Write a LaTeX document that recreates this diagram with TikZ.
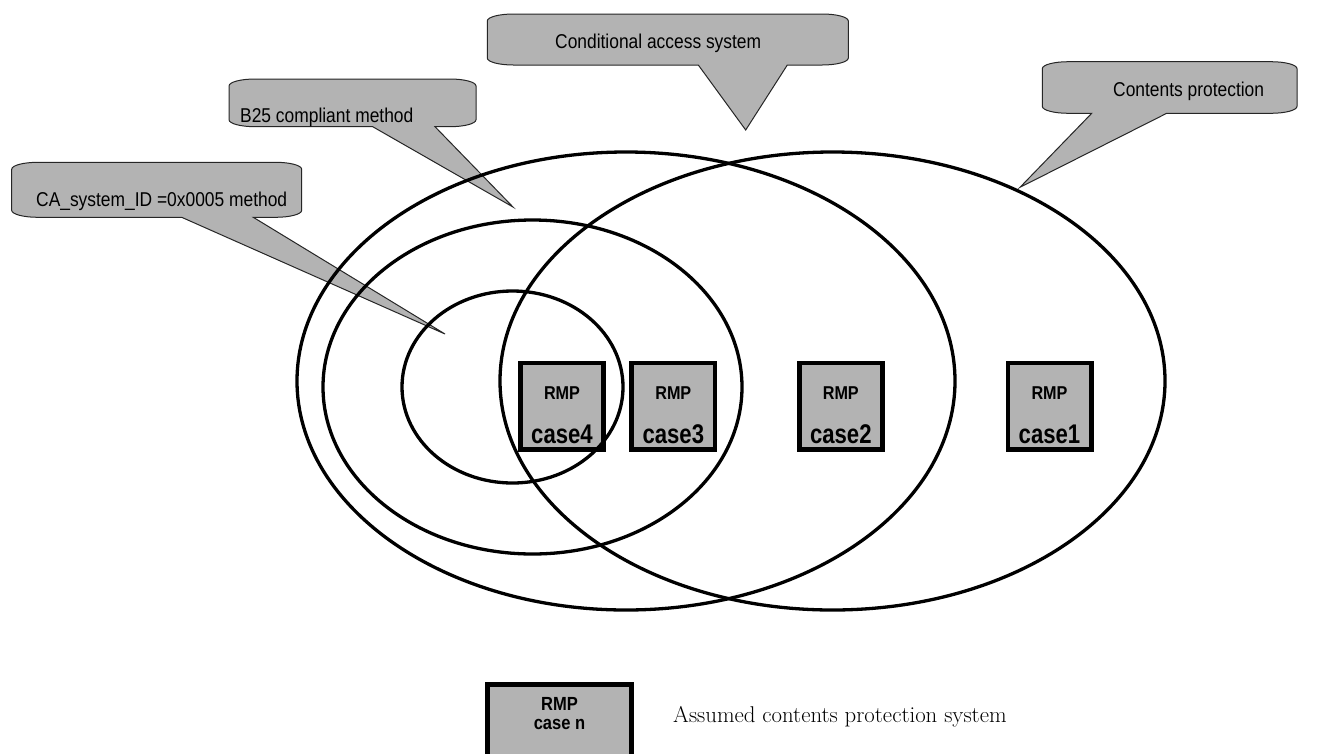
\documentclass[tikz,border=0pt]{standalone}
\usepackage{fontspec}
\newfontfamily\calloutfont[FakeStretch=0.87]{Liberation Sans}
\newfontfamily\boxfont[FakeStretch=0.87]{Liberation Sans}
\newfontfamily\casefont[FakeStretch=0.82]{Liberation Sans}
\definecolor{panelgray}{RGB}{179,179,179}

% speech-bubble callout: left, top, right, bottom, tail base x1, tail base x2, tip x, tip y
\newcommand\callout[8]{%
  \filldraw[callout]
    (#1,#2+7) .. controls (#1,#2+3) and (#1+12,#2) .. (#1+26,#2)
    -- (#3-26,#2) .. controls (#3-12,#2) and (#3,#2+3) .. (#3,#2+7)
    -- (#3,#4-7) .. controls (#3,#4-3) and (#3-12,#4) .. (#3-26,#4)
    -- (#6,#4) -- (#7,#8) -- (#5,#4)
    -- (#1+26,#4) .. controls (#1+12,#4) and (#1,#4-3) .. (#1,#4-7)
    -- cycle;}

% RMP case box: name, centre x, case label
\newcommand\rmpcase[3]{%
  \node[rmpbox] (#1) at (#2,406.35) {};
  \node[rmptop] (#1-rmp) at ([yshift=-38.7pt]#1.north) {RMP};
  \node[rmpcase] (#1-case) at ([yshift=9pt]#1.south) {#3};}

\begin{document}
\begin{tikzpicture}[x=1pt,y=-1pt,
  callout/.style={fill=panelgray, draw=black!85, line width=1pt, line join=miter},
  callouttext/.style={font=\calloutfont\fontsize{20}{24}\selectfont, inner sep=0pt, anchor=base west},
  setline/.style={line width=3.3pt},
  rmpbox/.style={draw, fill=panelgray, line width=4.7pt, minimum width=83.3pt, minimum height=86.6pt, inner sep=0pt},
  rmptop/.style={font=\boxfont\bfseries\fontsize{18.6}{20}\selectfont, inner sep=0pt, anchor=base},
  rmpcase/.style={font=\casefont\bfseries\fontsize{27}{30}\selectfont, inner sep=0pt, anchor=base},
  legendlabel/.style={font=\boxfont\bfseries\fontsize{19}{22}\selectfont, inner sep=0pt, anchor=base},
]
\useasboundingbox (0,0) rectangle (1335,753);
\clip (0,0) rectangle (1335,753);
\fill[white] (0,0) rectangle (1335,753);

% callouts
\callout{487.3}{14}{848.3}{65}{698.3}{787.3}{745.7}{130}
\callout{1042.3}{61.7}{1297}{113.3}{1091.7}{1166.7}{1020}{187.3}
\callout{229}{79}{476}{126.7}{372.7}{435}{513}{207}
\callout{11.7}{162.3}{301.7}{217.3}{181.7}{253.3}{445}{334}

\node[callouttext] (casys) at (555,48) {Conditional access system};
\node[callouttext] (cprot) at (1113,96.7) {Contents protection};
\node[callouttext] (b25) at (240,122.7) {B25 compliant method};
\node[callouttext] (caid) at (36,206) {CA\_system\_ID =0x0005 method};

% RMP boxes
\rmpcase{case4}{562}{case4}
\rmpcase{case3}{673.3}{case3}
\rmpcase{case2}{840.8}{case2}
\rmpcase{case1}{1049.5}{case1}

% nested sets
\draw[setline] (626,381) ellipse [x radius=329pt, y radius=229pt];
\draw[setline] (832.5,381) ellipse [x radius=332.5pt, y radius=229pt];
\draw[setline] (532.5,387) ellipse [x radius=209.5pt, y radius=167pt];
\draw[setline] (512.5,387) ellipse [x radius=110.5pt, y radius=96pt];

% legend
\node[rmpbox, minimum width=144pt, minimum height=85.5pt] (legend) at (559.5,727.25) {};
\node[legendlabel] (legend-rmp) at ([yshift=-28pt]legend.north) {RMP};
\node[legendlabel] (legend-case) at ([yshift=-47.5pt]legend.north) {case n};
\node[anchor=base west, inner sep=0pt, font=\fontsize{22.8}{26}\selectfont] (legendtext) at (673,722) {Assumed contents protection system};
\end{tikzpicture}
\end{document}
